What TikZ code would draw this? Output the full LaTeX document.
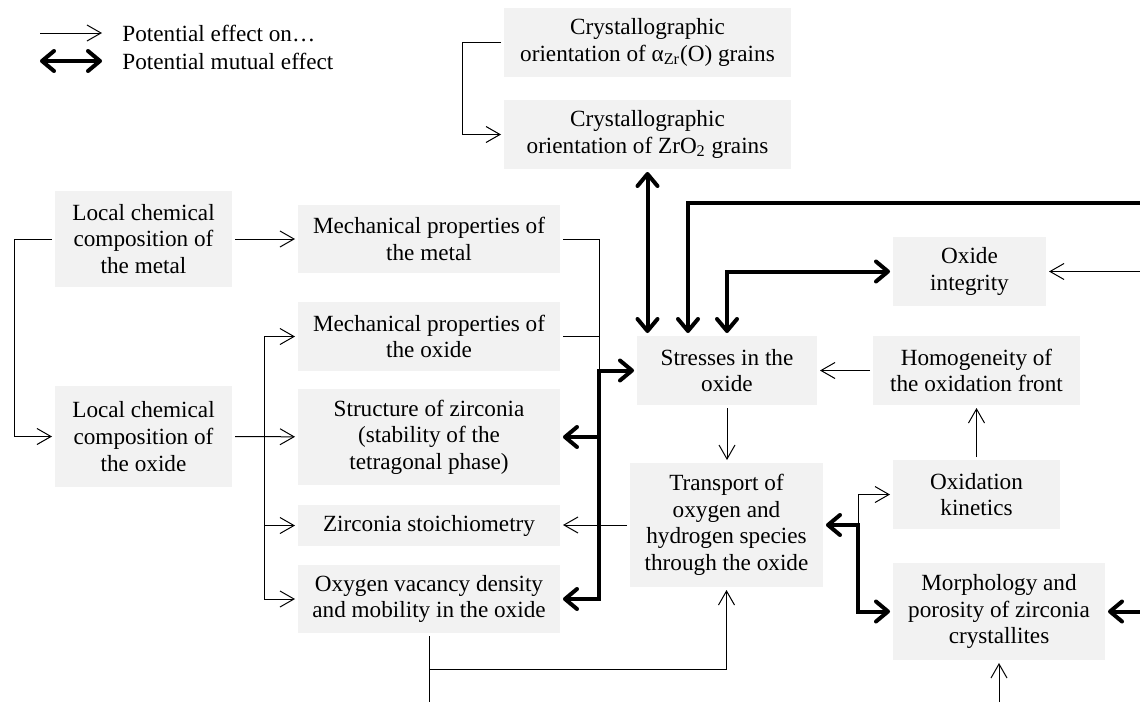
\documentclass[tikz,border=0pt]{standalone}
\usepackage{fontspec}
\setmainfont{Liberation Serif}
\usetikzlibrary{arrows.meta}
\definecolor{boxgray}{RGB}{242,242,242}

\begin{document}
\begin{tikzpicture}[x=0.5pt,y=-0.5pt,
  every node/.style={font=\fontsize{11.6}{13.3}\selectfont},
  box/.style 2 args={fill=boxgray,align=center,inner sep=0pt,outer sep=1.5pt,
    minimum width=#1pt,minimum height=#2pt},
  eff/.style={line width=0.5pt,-{Straight Barb[length=7pt,width=8pt]}},
  mut/.style={line width=2pt,>={Straight Barb[length=6pt,width=10pt,round]}}]
\useasboundingbox (0,0) rectangle (1140,702);

% legend
\coordinate (l1) at (40,33);
\coordinate (l2) at (40,61);
\draw [eff] (l1) -- ++(62,0);
\draw [mut,<->] (l2) -- ++(62,0);
\node [anchor=west,inner sep=0pt] (t1) at (122,33) {Potential effect on…};
\node [anchor=west,inner sep=0pt] (t2) at (122,61) {Potential mutual effect};

% boxes
\node [box={143.5}{34.5}] (a1) at (647.5,42.5) {Crystallographic\\orientation of α\textsubscript{Zr}(O) grains};
\node [box={143.5}{34.5}] (a2) at (647.5,134.5) {Crystallographic\\orientation of ZrO\textsubscript{2} grains};
\node [box={88.5}{48}] (b1) at (143.5,239) {Local chemical\\composition of\\the metal};
\node [box={88.5}{50.5}] (b2) at (143.5,436.5) {Local chemical\\composition of\\the oxide};
\node [box={131}{34}] (c1) at (429,239) {Mechanical properties of\\the metal};
\node [box={131}{34.5}] (c2) at (429,336.5) {Mechanical properties of\\the oxide};
\node [box={131}{48}] (c3) at (429,437) {Structure of zirconia\\(stability of the\\tetragonal phase)};
\node [box={131}{20.5}] (c4) at (429,525.5) {Zirconia stoichiometry};
\node [box={131}{34}] (c5) at (429,599) {Oxygen vacancy density\\and mobility in the oxide};
\node [box={90}{34.5}] (s) at (727,370.5) {Stresses in the\\oxide};
\node [box={96.5}{62}] (t) at (726.5,525) {Transport of\\oxygen and\\hydrogen species\\through the oxide};
\node [box={76.5}{34.5}] (oi) at (969.5,271.5) {Oxide\\integrity};
\node [box={103.5}{34.5}] (h) at (976.5,370.5) {Homogeneity of\\the oxidation front};
\node [box={83.5}{34.5}] (k) at (976.5,494.5) {Oxidation\\kinetics};
\node [box={106}{48.5}] (m) at (999,611.5) {Morphology and\\porosity of zirconia\\crystallites};

% loose ends
\coordinate (j1) at (264,437);
\coordinate (j2) at (599,370.5);
\coordinate (j4) at (429,669);
\coordinate (e1) at (1140,203);
\coordinate (e2) at (1140,271.5);
\coordinate (e3) at (1140,611.5);
\coordinate (e4) at (999,702);
\coordinate (e5) at (429,702);

% thin connectors
\draw [eff] (a1.west) -- ++(-39,0) |- (a2.west);
\draw [eff] (b1) -- (c1);
\draw [eff] (b1.west) -- ++(-38,0) |- (b2.west);
\draw [eff] (b2) -- (c3);
\draw [eff] (j1) |- (c2.west);
\draw [eff] (j1) |- (c4.west);
\draw [eff] (j1) |- (c5.west);
\draw [line width=0.5pt] (c1.east) -| (j2);
\draw [line width=0.5pt] (c2.east) -| (j2);
\draw [eff] (h) -- (s);
\draw [eff] (s.south) -- (s.south |- t.north);
\draw [eff] (k) -- (h);
\draw [eff] (t.west) -- (t.west -| c4.east);
\draw [eff] (t.east) ++(32,0) |- (k.west);
\draw [eff] (e2) -- (oi.east);
\draw [eff] (e4) -- (m.south);
\draw [line width=0.5pt] (c5.south) -- (e5);
\draw [eff] (j4) -| (t.south);

% thick connectors
\draw [mut,<->] (a2.south) -- (a2.south |- s.north);
\draw [mut,->] (e1) -| ([xshift=-19.5pt]s.north);
\draw [mut,<->] (oi.west) -| (s.north);
\draw [mut,<->] (s.west) -- (j2) |- (c5.east);
\draw [mut,->] (j2 |- c3.east) -- (c3.east);
\draw [mut,<->] (t.east) -- ++(32,0) |- (m.west);
\draw [mut,->] (e3) -- (m.east);
\end{tikzpicture}
\end{document}
